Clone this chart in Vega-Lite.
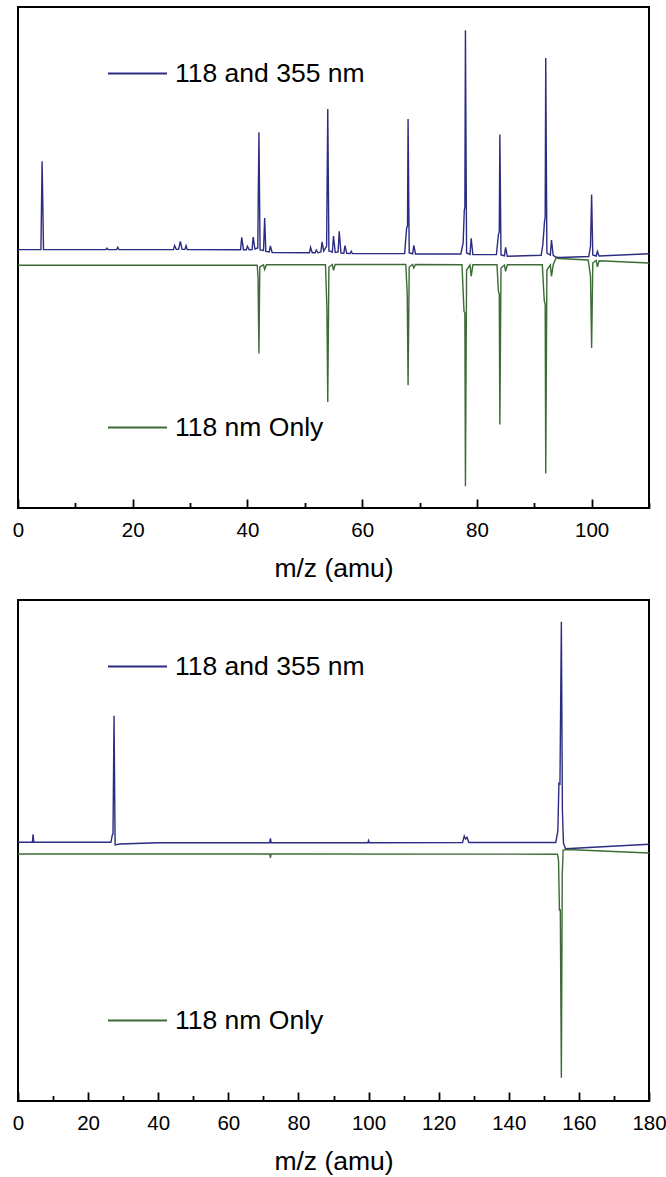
{
  "$schema": "https://vega.github.io/schema/vega-lite/v6.json",
  "padding": {"left": 11, "top": 6, "right": 0, "bottom": 0},
  "background": "white",
  "spacing": 16,
  "config": {
    "font": "Liberation Sans",
    "view": {"stroke": "black", "strokeWidth": 2},
    "axis": {"labelFont": "Liberation Sans", "titleFont": "Liberation Sans", "labelColor": "black", "titleColor": "black", "grid": false},
    "legend": {"labelFont": "Liberation Sans", "labelColor": "black", "padding": 0, "offset": 0}
  },
  "datasets": {
    "topBlue": [
      {"mz": 0, "h": 258.4}, {"mz": 4.0, "h": 258.4}, {"mz": 4.2, "h": 346.7}, {"mz": 4.45, "h": 258.4},
      {"mz": 15.3, "h": 258.4}, {"mz": 15.5, "h": 259.8}, {"mz": 15.7, "h": 258.4},
      {"mz": 17.2, "h": 258.4}, {"mz": 17.4, "h": 260.7}, {"mz": 17.6, "h": 258.4},
      {"mz": 27.1, "h": 258.4}, {"mz": 27.3, "h": 262.4}, {"mz": 27.6, "h": 258.6}, {"mz": 28.0, "h": 258.6}, {"mz": 28.3, "h": 266.7}, {"mz": 28.6, "h": 258.6}, {"mz": 29.1, "h": 258.6}, {"mz": 29.3, "h": 262.4}, {"mz": 29.5, "h": 258.5},
      {"mz": 38.8, "h": 258.3}, {"mz": 39.0, "h": 270.7}, {"mz": 39.3, "h": 258.3}, {"mz": 39.8, "h": 258.3}, {"mz": 40.0, "h": 261.7}, {"mz": 40.3, "h": 258.3}, {"mz": 40.8, "h": 258.5}, {"mz": 41.0, "h": 271}, {"mz": 41.3, "h": 259}, {"mz": 41.8, "h": 260}, {"mz": 42.0, "h": 375.7}, {"mz": 42.2, "h": 258}, {"mz": 42.8, "h": 257.5}, {"mz": 43.0, "h": 290}, {"mz": 43.2, "h": 256.5}, {"mz": 43.8, "h": 256}, {"mz": 44.0, "h": 262}, {"mz": 44.3, "h": 255.5},
      {"mz": 50.8, "h": 255.2}, {"mz": 51.0, "h": 260.7}, {"mz": 51.3, "h": 255.2}, {"mz": 51.8, "h": 255.2}, {"mz": 52.0, "h": 258}, {"mz": 52.3, "h": 255.2}, {"mz": 52.8, "h": 256}, {"mz": 53.0, "h": 266}, {"mz": 53.3, "h": 257}, {"mz": 53.8, "h": 262}, {"mz": 54.0, "h": 399}, {"mz": 54.2, "h": 257}, {"mz": 54.8, "h": 256}, {"mz": 55.0, "h": 272}, {"mz": 55.3, "h": 255.5}, {"mz": 55.8, "h": 256}, {"mz": 56.0, "h": 276.7}, {"mz": 56.3, "h": 255}, {"mz": 56.8, "h": 254.8}, {"mz": 57.0, "h": 262.4}, {"mz": 57.3, "h": 254.6}, {"mz": 57.9, "h": 254.5}, {"mz": 58.1, "h": 256.7}, {"mz": 58.3, "h": 254.4},
      {"mz": 67.4, "h": 254.4}, {"mz": 67.75, "h": 280}, {"mz": 67.9, "h": 282}, {"mz": 68.0, "h": 389}, {"mz": 68.2, "h": 255}, {"mz": 68.8, "h": 254.2}, {"mz": 69.0, "h": 262.7}, {"mz": 69.3, "h": 254},
      {"mz": 77.2, "h": 254}, {"mz": 77.6, "h": 265}, {"mz": 77.8, "h": 297.7}, {"mz": 77.9, "h": 300}, {"mz": 78.0, "h": 477.7}, {"mz": 78.2, "h": 255}, {"mz": 78.8, "h": 253.5}, {"mz": 79.0, "h": 269.7}, {"mz": 79.3, "h": 253.4},
      {"mz": 83.4, "h": 253.4}, {"mz": 83.75, "h": 273.4}, {"mz": 83.9, "h": 276}, {"mz": 84.0, "h": 373.4}, {"mz": 84.2, "h": 253}, {"mz": 84.8, "h": 252.2}, {"mz": 85.0, "h": 260.7}, {"mz": 85.3, "h": 251.7},
      {"mz": 91.2, "h": 252.7}, {"mz": 91.5, "h": 263.7}, {"mz": 91.8, "h": 287.4}, {"mz": 91.9, "h": 290}, {"mz": 92.0, "h": 450}, {"mz": 92.2, "h": 255}, {"mz": 92.8, "h": 253}, {"mz": 93.0, "h": 268}, {"mz": 93.3, "h": 252.7}, {"mz": 93.8, "h": 250.7}, {"mz": 94.5, "h": 250.5},
      {"mz": 99.5, "h": 251.5}, {"mz": 99.8, "h": 261.7}, {"mz": 100.0, "h": 313.4}, {"mz": 100.2, "h": 253}, {"mz": 100.8, "h": 252}, {"mz": 101.0, "h": 256.7}, {"mz": 101.3, "h": 252},
      {"mz": 110, "h": 254.2}
    ],
    "topGreen": [
      {"mz": 0, "h": 242.7}, {"mz": 41.7, "h": 242.7}, {"mz": 41.85, "h": 230}, {"mz": 42.0, "h": 154.4}, {"mz": 42.15, "h": 241}, {"mz": 42.8, "h": 243.2}, {"mz": 43.0, "h": 238.7}, {"mz": 43.3, "h": 243.3},
      {"mz": 53.6, "h": 243.3}, {"mz": 53.85, "h": 200}, {"mz": 54.0, "h": 106}, {"mz": 54.2, "h": 241}, {"mz": 54.8, "h": 243.5}, {"mz": 55.0, "h": 237.7}, {"mz": 55.3, "h": 243.5},
      {"mz": 67.6, "h": 243.5}, {"mz": 67.85, "h": 215}, {"mz": 68.0, "h": 122.7}, {"mz": 68.2, "h": 241}, {"mz": 68.8, "h": 243.5}, {"mz": 69.0, "h": 240}, {"mz": 69.3, "h": 243.5},
      {"mz": 77.4, "h": 243.3}, {"mz": 77.75, "h": 196.7}, {"mz": 77.9, "h": 195}, {"mz": 78.0, "h": 21.7}, {"mz": 78.2, "h": 238}, {"mz": 78.8, "h": 243}, {"mz": 79.0, "h": 231.7}, {"mz": 79.3, "h": 243.2},
      {"mz": 83.5, "h": 243.2}, {"mz": 83.75, "h": 216.7}, {"mz": 83.9, "h": 214}, {"mz": 84.0, "h": 83.4}, {"mz": 84.2, "h": 240}, {"mz": 84.8, "h": 243}, {"mz": 85.0, "h": 236.7}, {"mz": 85.3, "h": 243.2},
      {"mz": 91.4, "h": 243.3}, {"mz": 91.75, "h": 206.7}, {"mz": 91.9, "h": 204}, {"mz": 92.0, "h": 34.4}, {"mz": 92.2, "h": 238}, {"mz": 92.8, "h": 243}, {"mz": 93.0, "h": 231.7}, {"mz": 93.3, "h": 243.2}, {"mz": 93.8, "h": 250}, {"mz": 94.3, "h": 249.5},
      {"mz": 99.4, "h": 248}, {"mz": 99.8, "h": 231.7}, {"mz": 100.0, "h": 160}, {"mz": 100.2, "h": 245}, {"mz": 100.8, "h": 247.5}, {"mz": 101.0, "h": 241}, {"mz": 101.3, "h": 247.3},
      {"mz": 110, "h": 245}
    ],
    "botBlue": [
      {"mz": 0, "h": 258.7}, {"mz": 4.1, "h": 258.7}, {"mz": 4.3, "h": 266.7}, {"mz": 4.5, "h": 258.7},
      {"mz": 26.5, "h": 258.7}, {"mz": 26.9, "h": 266}, {"mz": 27.1, "h": 267}, {"mz": 27.4, "h": 385.3}, {"mz": 27.7, "h": 256}, {"mz": 29, "h": 257}, {"mz": 40, "h": 258.3},
      {"mz": 71.8, "h": 258.3}, {"mz": 72.0, "h": 262.7}, {"mz": 72.2, "h": 258.3},
      {"mz": 99.8, "h": 258.3}, {"mz": 100.0, "h": 260.5}, {"mz": 100.2, "h": 258.3},
      {"mz": 126.8, "h": 258.5}, {"mz": 127.3, "h": 265}, {"mz": 127.7, "h": 262}, {"mz": 128.1, "h": 263.7}, {"mz": 128.6, "h": 258.5},
      {"mz": 153.4, "h": 258.5}, {"mz": 154.0, "h": 270}, {"mz": 154.3, "h": 317.7}, {"mz": 154.6, "h": 317}, {"mz": 155.0, "h": 479.3}, {"mz": 155.3, "h": 290}, {"mz": 155.6, "h": 258}, {"mz": 156.2, "h": 252.3}, {"mz": 157.5, "h": 252.5}, {"mz": 180, "h": 256.7}
    ],
    "botGreen": [
      {"mz": 0, "h": 247}, {"mz": 71.8, "h": 247}, {"mz": 72.0, "h": 243}, {"mz": 72.2, "h": 247},
      {"mz": 153.9, "h": 246.8}, {"mz": 154.2, "h": 240}, {"mz": 154.45, "h": 191}, {"mz": 154.7, "h": 191}, {"mz": 155.0, "h": 23.3}, {"mz": 155.25, "h": 225}, {"mz": 155.5, "h": 251}, {"mz": 156.5, "h": 251.5}, {"mz": 180, "h": 248}
    ]
  },
  "vconcat": [
    {
      "width": 631,
      "height": 501,
      "resolve": {"scale": {"color": "independent"}, "legend": {"color": "independent"}, "axis": {"x": "independent"}},
      "layer": [
        {
          "data": {"name": "topBlue"},
          "mark": {"type": "line", "strokeWidth": 1.4},
          "encoding": {
            "x": {"field": "mz", "type": "quantitative", "scale": {"domain": [0, 110], "nice": false},
              "axis": {"orient": "bottom", "values": [0, 20, 40, 60, 80, 100], "ticks": false, "domain": false, "labelFontSize": 20.5, "labelPadding": 12, "labelFlush": false, "labelOverlap": false, "title": "m/z (amu)", "titleFontSize": 26.5, "titleFontWeight": "normal", "titlePadding": 15}},
            "y": {"field": "h", "type": "quantitative", "scale": {"domain": [0, 501], "nice": false, "zero": false}, "axis": null},
            "color": {"datum": "118 and 355 nm", "type": "nominal", "scale": {"range": ["#2c2c82"]},
              "legend": {"orient": "none", "legendX": 89, "legendY": 36, "title": null, "symbolType": "stroke", "symbolSize": 3481, "symbolStrokeWidth": 2, "labelFontSize": 26.5, "labelOffset": 7, "labelLimit": 400}}
          }
        },
        {
          "data": {"name": "topGreen"},
          "mark": {"type": "line", "strokeWidth": 1.4},
          "encoding": {
            "x": {"field": "mz", "type": "quantitative", "scale": {"domain": [0, 110], "nice": false},
              "axis": {"orient": "bottom", "values": [0, 10, 20, 30, 40, 50, 60, 70, 80, 90, 100, 110], "labels": false, "domain": false, "title": null, "tickColor": "black", "tickWidth": 1.8,
                "tickSize": {"condition": {"test": "datum.value % 20 === 0", "value": -9}, "value": -5.5}}},
            "y": {"field": "h", "type": "quantitative", "scale": {"domain": [0, 501], "nice": false, "zero": false}, "axis": null},
            "color": {"datum": "118 nm Only", "type": "nominal", "scale": {"range": ["#3d6b36"]},
              "legend": {"orient": "none", "legendX": 89, "legendY": 390, "title": null, "symbolType": "stroke", "symbolSize": 3481, "symbolStrokeWidth": 2, "labelFontSize": 26.5, "labelOffset": 7, "labelLimit": 400}}
          }
        }
      ]
    },
    {
      "width": 631,
      "height": 501,
      "resolve": {"scale": {"color": "independent"}, "legend": {"color": "independent"}, "axis": {"x": "independent"}},
      "layer": [
        {
          "data": {"name": "botBlue"},
          "mark": {"type": "line", "strokeWidth": 1.4},
          "encoding": {
            "x": {"field": "mz", "type": "quantitative", "scale": {"domain": [0, 180], "nice": false},
              "axis": {"orient": "bottom", "values": [0, 20, 40, 60, 80, 100, 120, 140, 160, 180], "ticks": false, "domain": false, "labelFontSize": 20.5, "labelPadding": 12, "labelFlush": false, "labelOverlap": false, "title": "m/z (amu)", "titleFontSize": 26.5, "titleFontWeight": "normal", "titlePadding": 15}},
            "y": {"field": "h", "type": "quantitative", "scale": {"domain": [0, 501], "nice": false, "zero": false}, "axis": null},
            "color": {"datum": "118 and 355 nm", "type": "nominal", "scale": {"range": ["#2c2c82"]},
              "legend": {"orient": "none", "legendX": 89, "legendY": 36, "title": null, "symbolType": "stroke", "symbolSize": 3481, "symbolStrokeWidth": 2, "labelFontSize": 26.5, "labelOffset": 7, "labelLimit": 400}}
          }
        },
        {
          "data": {"name": "botGreen"},
          "mark": {"type": "line", "strokeWidth": 1.4},
          "encoding": {
            "x": {"field": "mz", "type": "quantitative", "scale": {"domain": [0, 180], "nice": false},
              "axis": {"orient": "bottom", "values": [0, 10, 20, 30, 40, 50, 60, 70, 80, 90, 100, 110, 120, 130, 140, 150, 160, 170, 180], "labels": false, "domain": false, "title": null, "tickColor": "black", "tickWidth": 1.8,
                "tickSize": {"condition": {"test": "datum.value % 20 === 0", "value": -9}, "value": -5.5}}},
            "y": {"field": "h", "type": "quantitative", "scale": {"domain": [0, 501], "nice": false, "zero": false}, "axis": null},
            "color": {"datum": "118 nm Only", "type": "nominal", "scale": {"range": ["#3d6b36"]},
              "legend": {"orient": "none", "legendX": 89, "legendY": 390, "title": null, "symbolType": "stroke", "symbolSize": 3481, "symbolStrokeWidth": 2, "labelFontSize": 26.5, "labelOffset": 7, "labelLimit": 400}}
          }
        }
      ]
    }
  ]
}
